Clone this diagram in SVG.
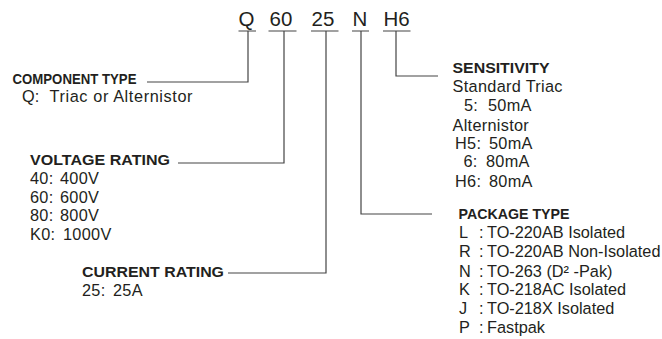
<svg xmlns="http://www.w3.org/2000/svg" width="662" height="339" viewBox="0 0 662 339">
<style>
  text { font-family: "Liberation Sans", Arial, sans-serif; fill: #231f20; }
  .code { font-size: 20.5px; }
  .head { font-size: 15.5px; font-weight: bold; }
  .cond { font-family: "Liberation Sans Narrow", "Liberation Sans", Arial, sans-serif; font-size: 15px; font-weight: bold; }
  .val { font-size: 16.3px; }
  .wide { letter-spacing: 0.3px; }
  .ln { fill: none; stroke: #444; stroke-width: 1.2; }
</style>
<rect width="662" height="339" fill="#fff"/>
<g id="code">
  <text class="code" x="238.5" y="26">Q</text>
  <text class="code" x="269.5" y="26">60</text>
  <text class="code" x="311.5" y="26">25</text>
  <text class="code" x="352.5" y="26">N</text>
  <text class="code" x="383.5" y="26">H6</text>
</g>
<g id="connectors">
  <path class="ln" d="M238.5 31H256M248 31V82H147"/>
  <path class="ln" d="M268.5 31H296.5M284 31V163H178"/>
  <path class="ln" d="M311 31H338.5M326 31V273H228"/>
  <path class="ln" d="M352 31H369M361 31V214H432"/>
  <path class="ln" d="M383 31H410.5M396 31V76H438"/>
</g>
<g id="component-type">
  <text class="cond" x="12.5" y="84" textLength="124" lengthAdjust="spacingAndGlyphs">COMPONENT TYPE</text>
  <text class="val" y="101.5"><tspan x="22">Q:</tspan><tspan x="49.5" textLength="143" lengthAdjust="spacing">Triac or Alternistor</tspan></text>
</g>
<g id="voltage-rating">
  <text class="head" x="30" y="165" textLength="140" lengthAdjust="spacingAndGlyphs">VOLTAGE RATING</text>
  <text class="val wide" y="183.5"><tspan x="30">40:</tspan><tspan x="60">400V</tspan></text>
  <text class="val wide" y="202.5"><tspan x="30">60:</tspan><tspan x="60">600V</tspan></text>
  <text class="val wide" y="221"><tspan x="30">80:</tspan><tspan x="60">800V</tspan></text>
  <text class="val wide" y="239.5"><tspan x="30">K0:</tspan><tspan x="63">1000V</tspan></text>
</g>
<g id="current-rating">
  <text class="head" x="82" y="277" textLength="142" lengthAdjust="spacingAndGlyphs">CURRENT RATING</text>
  <text class="val wide" y="295.5"><tspan x="82">25:</tspan><tspan x="113">25A</tspan></text>
</g>
<g id="sensitivity">
  <text class="head" x="452.5" y="72.5" textLength="97" lengthAdjust="spacingAndGlyphs">SENSITIVITY</text>
  <text class="val" x="452.5" y="91.5" textLength="110" lengthAdjust="spacing">Standard Triac</text>
  <text class="val wide" y="111"><tspan x="464">5:</tspan><tspan x="488">50mA</tspan></text>
  <text class="val wide" x="452.5" y="130.5">Alternistor</text>
  <text class="val wide" y="148.5"><tspan x="455">H5:</tspan><tspan x="489">50mA</tspan></text>
  <text class="val wide" y="167"><tspan x="463.5">6:</tspan><tspan x="486">80mA</tspan></text>
  <text class="val wide" y="186.5"><tspan x="455">H6:</tspan><tspan x="489">80mA</tspan></text>
</g>
<g id="package-type">
  <text class="head" x="458.5" y="218.5" textLength="111" lengthAdjust="spacingAndGlyphs">PACKAGE TYPE</text>
  <text class="val" y="237.5"><tspan x="459">L</tspan><tspan x="479">:</tspan><tspan x="487">TO-220AB Isolated</tspan></text>
  <text class="val" y="257"><tspan x="459">R</tspan><tspan x="479">:</tspan><tspan x="487">TO-220AB Non-Isolated</tspan></text>
  <text class="val" y="276.5"><tspan x="459">N</tspan><tspan x="479">:</tspan><tspan x="487">TO-263 (D² -Pak)</tspan></text>
  <text class="val" y="295"><tspan x="459">K</tspan><tspan x="479">:</tspan><tspan x="487">TO-218AC Isolated</tspan></text>
  <text class="val" y="314"><tspan x="459">J</tspan><tspan x="479">:</tspan><tspan x="487">TO-218X Isolated</tspan></text>
  <text class="val" y="332.5"><tspan x="459">P</tspan><tspan x="479">:</tspan><tspan x="487">Fastpak</tspan></text>
</g>
</svg>
